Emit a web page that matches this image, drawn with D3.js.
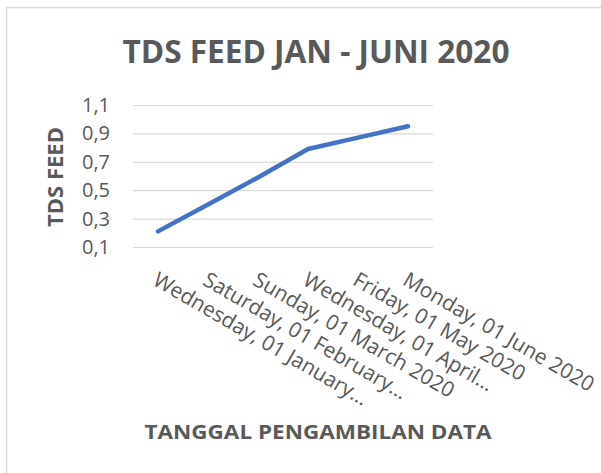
<!DOCTYPE html>
<html>
<head>
<meta charset="utf-8">
<script src="https://cdn.jsdelivr.net/npm/d3@7"></script>
<style>
  body { margin: 0; background: #fff; }
  text { font-family: "Open Sans", sans-serif; fill: #595959; }
</style>
</head>
<body>
<div id="chart"></div>
<script>
// data
var dates = ["Wednesday, 01 January\u2026", "Saturday, 01 February\u2026", "Sunday, 01 March 2020",
             "Wednesday, 01 April\u2026", "Friday, 01 May 2020", "Monday, 01 June 2020"];
var tds = [0.21, 0.40, 0.59, 0.79, 0.87, 0.95];
var yTicks = [0.1, 0.3, 0.5, 0.7, 0.9, 1.1];

var W = 601, H = 473;
var margin = {top: 105, left: 133, right: 168, bottom: 226};
var width = W - margin.left - margin.right,
    height = H - margin.top - margin.bottom;

var svg = d3.select("#chart")
  .append("svg")
    .attr("width", W)
    .attr("height", H);

// chart border (runs off the bottom/right edge)
svg.append("rect")
  .attr("x", 6.5).attr("y", 7.5)
  .attr("width", W + 20).attr("height", H + 20)
  .attr("fill", "none")
  .attr("stroke", "#d9d9d9")
  .attr("stroke-width", 1.5);

var g = svg.append("g")
  .attr("transform", "translate(" + margin.left + "," + margin.top + ")");

var x = d3.scaleBand()
  .domain(dates)
  .range([0, width]);

var y = d3.scaleLinear()
  .domain([0.1, 1.1])
  .range([height, 0]);

var fmt = function(d) { return d3.format(".1f")(d).replace(".", ","); };

// gridlines + y labels
var yAxis = g.append("g")
  .call(d3.axisLeft(y).tickValues(yTicks).tickSize(-width).tickPadding(23).tickFormat(fmt));
yAxis.select(".domain").remove();
yAxis.selectAll("line").attr("stroke", "#d9d9d9").attr("stroke-width", 1.2);
yAxis.selectAll("text")
  .style("font-family", "Open Sans, sans-serif")
  .style("font-size", "20px")
  .attr("fill", "#595959");

// x labels, rotated
g.append("g")
  .selectAll("text")
  .data(dates)
  .enter()
  .append("text")
    .attr("transform", function(d) {
      return "translate(" + (x(d) + x.bandwidth() / 2 + 1) + "," + (height + 24) + ") rotate(30)";
    })
    .attr("dy", "0.72em")
    .style("font-size", "21px")
    .text(function(d) { return d; });

// the line
var line = d3.line()
  .x(function(d, i) { return x(dates[i]) + x.bandwidth() / 2; })
  .y(function(d) { return y(d); });

g.append("path")
  .datum(tds)
  .attr("d", line)
  .attr("fill", "none")
  .attr("stroke", "#4472c4")
  .attr("stroke-width", 4.5)
  .attr("stroke-linecap", "round")
  .attr("stroke-linejoin", "round");

// titles
svg.append("text")
  .attr("x", 316).attr("y", 63)
  .attr("text-anchor", "middle")
  .attr("textLength", 387)
  .attr("lengthAdjust", "spacingAndGlyphs")
  .style("font-size", "33px")
  .style("font-weight", "bold")
  .text("TDS FEED JAN - JUNI 2020");

svg.append("text")
  .attr("transform", "translate(63,177) rotate(-90)")
  .attr("text-anchor", "middle")
  .attr("textLength", 100)
  .attr("lengthAdjust", "spacingAndGlyphs")
  .style("font-size", "21px")
  .style("font-weight", "bold")
  .text("TDS FEED");

svg.append("text")
  .attr("x", 318).attr("y", 439)
  .attr("text-anchor", "middle")
  .attr("textLength", 347)
  .attr("lengthAdjust", "spacingAndGlyphs")
  .style("font-size", "19px")
  .style("font-weight", "bold")
  .text("TANGGAL PENGAMBILAN DATA");
</script>
</body>
</html>
